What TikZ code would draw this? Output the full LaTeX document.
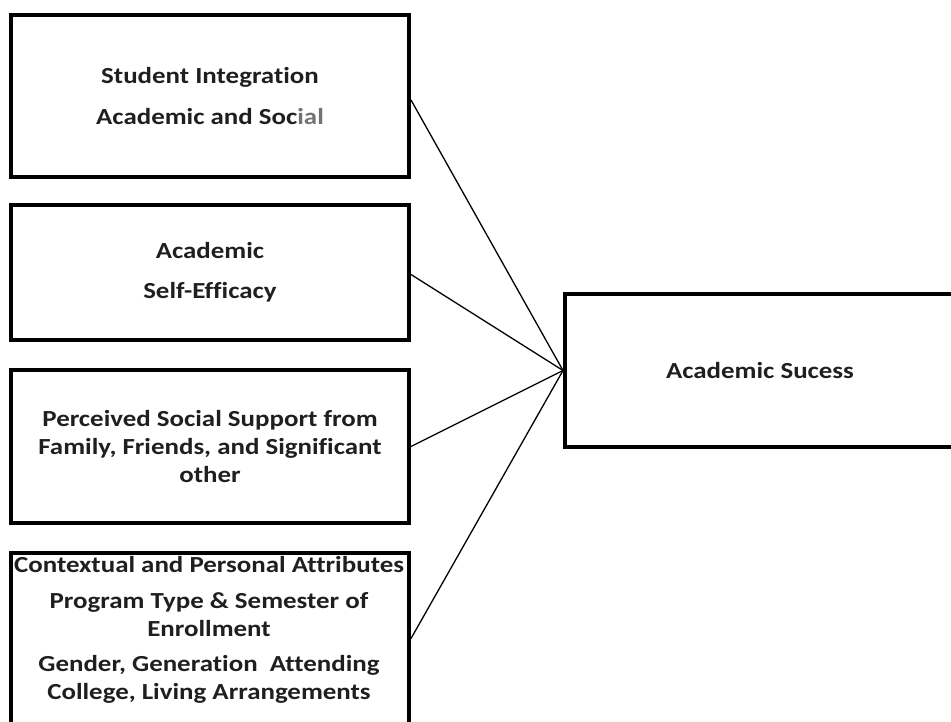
\documentclass[tikz,border=0pt]{standalone}
\usepackage{fontspec}
\setmainfont[FakeStretch=1.17, Ligatures=NoCommon]{Carlito}
\begin{document}
\begin{tikzpicture}[x=1pt,y=-1pt,
  box/.style={draw, line width=4pt, rectangle, inner sep=0pt, align=center,
    font=\fontsize{23}{28}\selectfont\bfseries, text=black!88},
  lbl/.style={align=center, font=\fontsize{23}{28}\selectfont\bfseries, text=black!88},
  conn/.style={line width=1.3pt}]
\useasboundingbox (0,0) rectangle (951,721);
\clip (0,0) rectangle (951,721);
\node[box, minimum width=398pt, minimum height=162pt] (b1) at (210,96)
  {Student Integration\\[13pt]Academic and Soc{\color{black!55}ial}};
\node[box, minimum width=398pt, minimum height=135pt] (b2) at (210,272.5)
  {Academic\\[12pt]Self-Efficacy};
\node[box, minimum width=398pt, minimum height=153pt] (b3) at (210,446.5)
  {Perceived Social Support from\\Family, Friends, and Significant\\other};
\node[box, minimum width=398pt, minimum height=171pt] (b4) at (210,638.5) {};
\node[lbl] (t4) at (209,629.5)
  {Contextual and Personal Attributes\\[8pt]Program Type \& Semester of\\Enrollment\\[7pt]Gender, Generation\ \ Attending\\College, Living Arrangements};
\node[box, minimum width=390pt, minimum height=153pt] (r) at (760,370.5) {Academic Sucess};
\draw[conn] ([yshift=-4pt]b1.east) -- (r.west);
\draw[conn] ([yshift=-2pt]b2.east) -- (r.west);
\draw[conn] (b3.east) -- (r.west);
\draw[conn] (b4.east) -- (r.west);
\end{tikzpicture}
\end{document}
